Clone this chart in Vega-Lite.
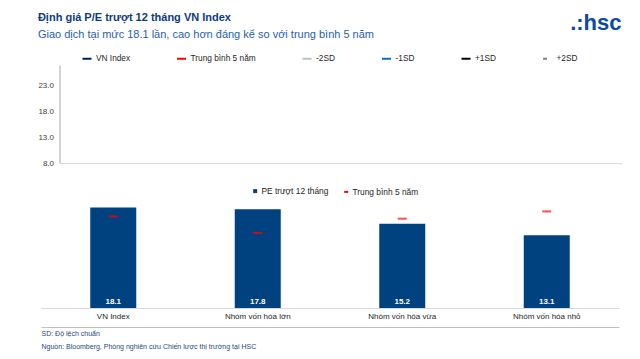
{
  "$schema": "https://vega.github.io/schema/vega-lite/v6.json",
  "background": "white",
  "padding": {"left": 37, "top": 11, "right": 17, "bottom": 5},
  "config": {
    "font": "Liberation Sans",
    "view": {"stroke": null}
  },
  "title": {
    "text": "Định giá P/E trượt 12 tháng VN Index",
    "subtitle": "Giao dịch tại mức 18.1 lần, cao hơn đáng kể so với trung bình 5 năm",
    "anchor": "start",
    "frame": "bounds",
    "fontSize": 11,
    "fontWeight": "bold",
    "color": "#0d3b7a",
    "subtitleFontSize": 11,
    "subtitleColor": "#1f5fad",
    "subtitlePadding": 6.5,
    "offset": -28.7
  },
  "resolve": {"scale": {"color": "independent"}, "legend": {"color": "independent"}},
  "spacing": 19,
  "vconcat": [
    {
      "width": 580.5,
      "height": 98,
      "title": {"text": ".:hsc", "anchor": "end", "frame": "group", "fontSize": 22, "fontWeight": "bold", "color": "#0b4aa2", "offset": 18.5},
      "data": {"values": [
        {"series": "VN Index", "date": null, "pe": null},
        {"series": "Trung bình 5 năm", "date": null, "pe": null},
        {"series": "-2SD", "date": null, "pe": null},
        {"series": "-1SD", "date": null, "pe": null},
        {"series": "+1SD", "date": null, "pe": null},
        {"series": "+2SD", "date": null, "pe": null}
      ]},
      "mark": {"type": "line", "strokeWidth": 2},
      "encoding": {
        "x": {"field": "date", "type": "temporal",
          "scale": {"range": [18.5, 580.5]},
          "axis": {"labels": false, "ticks": false, "title": null, "grid": false, "domainColor": "#d9d9d9"}},
        "y": {"field": "pe", "type": "quantitative",
          "scale": {"domain": [8, 27], "nice": false, "zero": false},
          "axis": {"values": [8, 13, 18, 23], "format": ".1f", "offset": -18.5, "labelFontSize": 8, "labelColor": "#404040", "ticks": false, "labelPadding": 6, "domainColor": "#a6a6a6", "grid": false, "title": null}},
        "color": {"field": "series", "type": "nominal",
          "scale": {"domain": ["VN Index", "Trung bình 5 năm", "-2SD", "-1SD", "+1SD", "+2SD"],
                    "range": ["#002060", "#ff0000", "#bfbfbf", "#0070c0", "#000000", "#7f7f7f"]},
          "legend": {"orient": "none", "legendX": 40.5, "legendY": -12, "direction": "horizontal", "columns": 6,
            "title": null, "symbolType": "stroke", "symbolSize": 81, "symbolStrokeWidth": 2,
            "labelFontSize": 8.3, "labelColor": "#262626", "labelOffset": 3.5, "columnPadding": 42.5, "padding": 0,
            "encode": {"symbols": {"update": {"strokeDash": {"signal": "datum.value === '+2SD' ? [4, 10] : []"}}}}}}
      }
    },
    {
      "width": 578,
      "height": 111,
      "data": {"values": [
        {"group": "VN Index", "pe": 18.1, "avg5y": 16.5},
        {"group": "Nhóm vốn hóa lớn", "pe": 17.8, "avg5y": 13.5},
        {"group": "Nhóm vốn hóa vừa", "pe": 15.2, "avg5y": 16.1},
        {"group": "Nhóm vốn hóa nhỏ", "pe": 13.1, "avg5y": 17.4}
      ]},
      "resolve": {"axis": {"x": "independent"}},
      "layer": [
        {
          "mark": {"type": "bar", "width": 46},
          "encoding": {
            "x": {"field": "group", "type": "nominal", "sort": null,
              "scale": {"paddingInner": 0, "paddingOuter": 0},
              "axis": {"title": null, "labelAngle": 0, "labelFontSize": 8, "labelColor": "#262626", "ticks": false, "labelPadding": 4, "domainColor": "#d9d9d9", "grid": false}},
            "y": {"field": "pe", "type": "quantitative", "scale": {"domain": [0, 20], "nice": false}, "axis": null},
            "color": {"datum": "PE trượt 12 tháng",
              "scale": {"domain": ["PE trượt 12 tháng", "Trung bình 5 năm"], "range": ["#00427f", "#ff0000"]},
              "legend": {"orient": "none", "legendX": 210, "legendY": -10.5, "direction": "horizontal", "title": null,
                "symbolSize": 16, "labelFontSize": 8.4, "labelColor": "#262626", "labelOffset": 2, "columnPadding": 11, "padding": 0,
                "encode": {"symbols": {"update": {
                  "shape": {"signal": "datum.value === 'PE trượt 12 tháng' ? 'square' : 'stroke'"},
                  "fill": {"signal": "datum.value === 'PE trượt 12 tháng' ? '#00427f' : 'transparent'"},
                  "stroke": {"signal": "datum.value === 'PE trượt 12 tháng' ? 'transparent' : '#ff0000'"},
                  "strokeWidth": {"value": 2},
                  "opacity": {"value": 1}
                }}}}}
          }
        },
        {
          "mark": {"type": "text", "color": "white", "fontWeight": "bold", "fontSize": 8, "baseline": "bottom", "dy": -2},
          "encoding": {
            "x": {"field": "group", "type": "nominal", "sort": null, "axis": null},
            "y": {"datum": 0, "type": "quantitative", "axis": null},
            "text": {"field": "pe", "type": "quantitative", "format": ".1f"}
          }
        },
        {
          "mark": {"type": "tick", "size": 9, "thickness": 2},
          "encoding": {
            "x": {"field": "group", "type": "nominal", "sort": null,
              "axis": {"orient": "bottom", "offset": 19, "labels": false, "ticks": false, "grid": false, "domainColor": "#bfbfbf",
                "title": ["SD: Độ lệch chuẩn", "Nguồn: Bloomberg, Phòng nghiên cứu Chiến lược thị trường tại HSC"],
                "titleAnchor": "start", "titleAlign": "left", "titleFontSize": 7, "titleFontWeight": "normal",
                "titleColor": "#1f497d", "titlePadding": 2, "titleLineHeight": 13.5}},
            "y": {"field": "avg5y", "type": "quantitative", "axis": null},
            "color": {"datum": "Trung bình 5 năm"}
          }
        }
      ]
    }
  ]
}
